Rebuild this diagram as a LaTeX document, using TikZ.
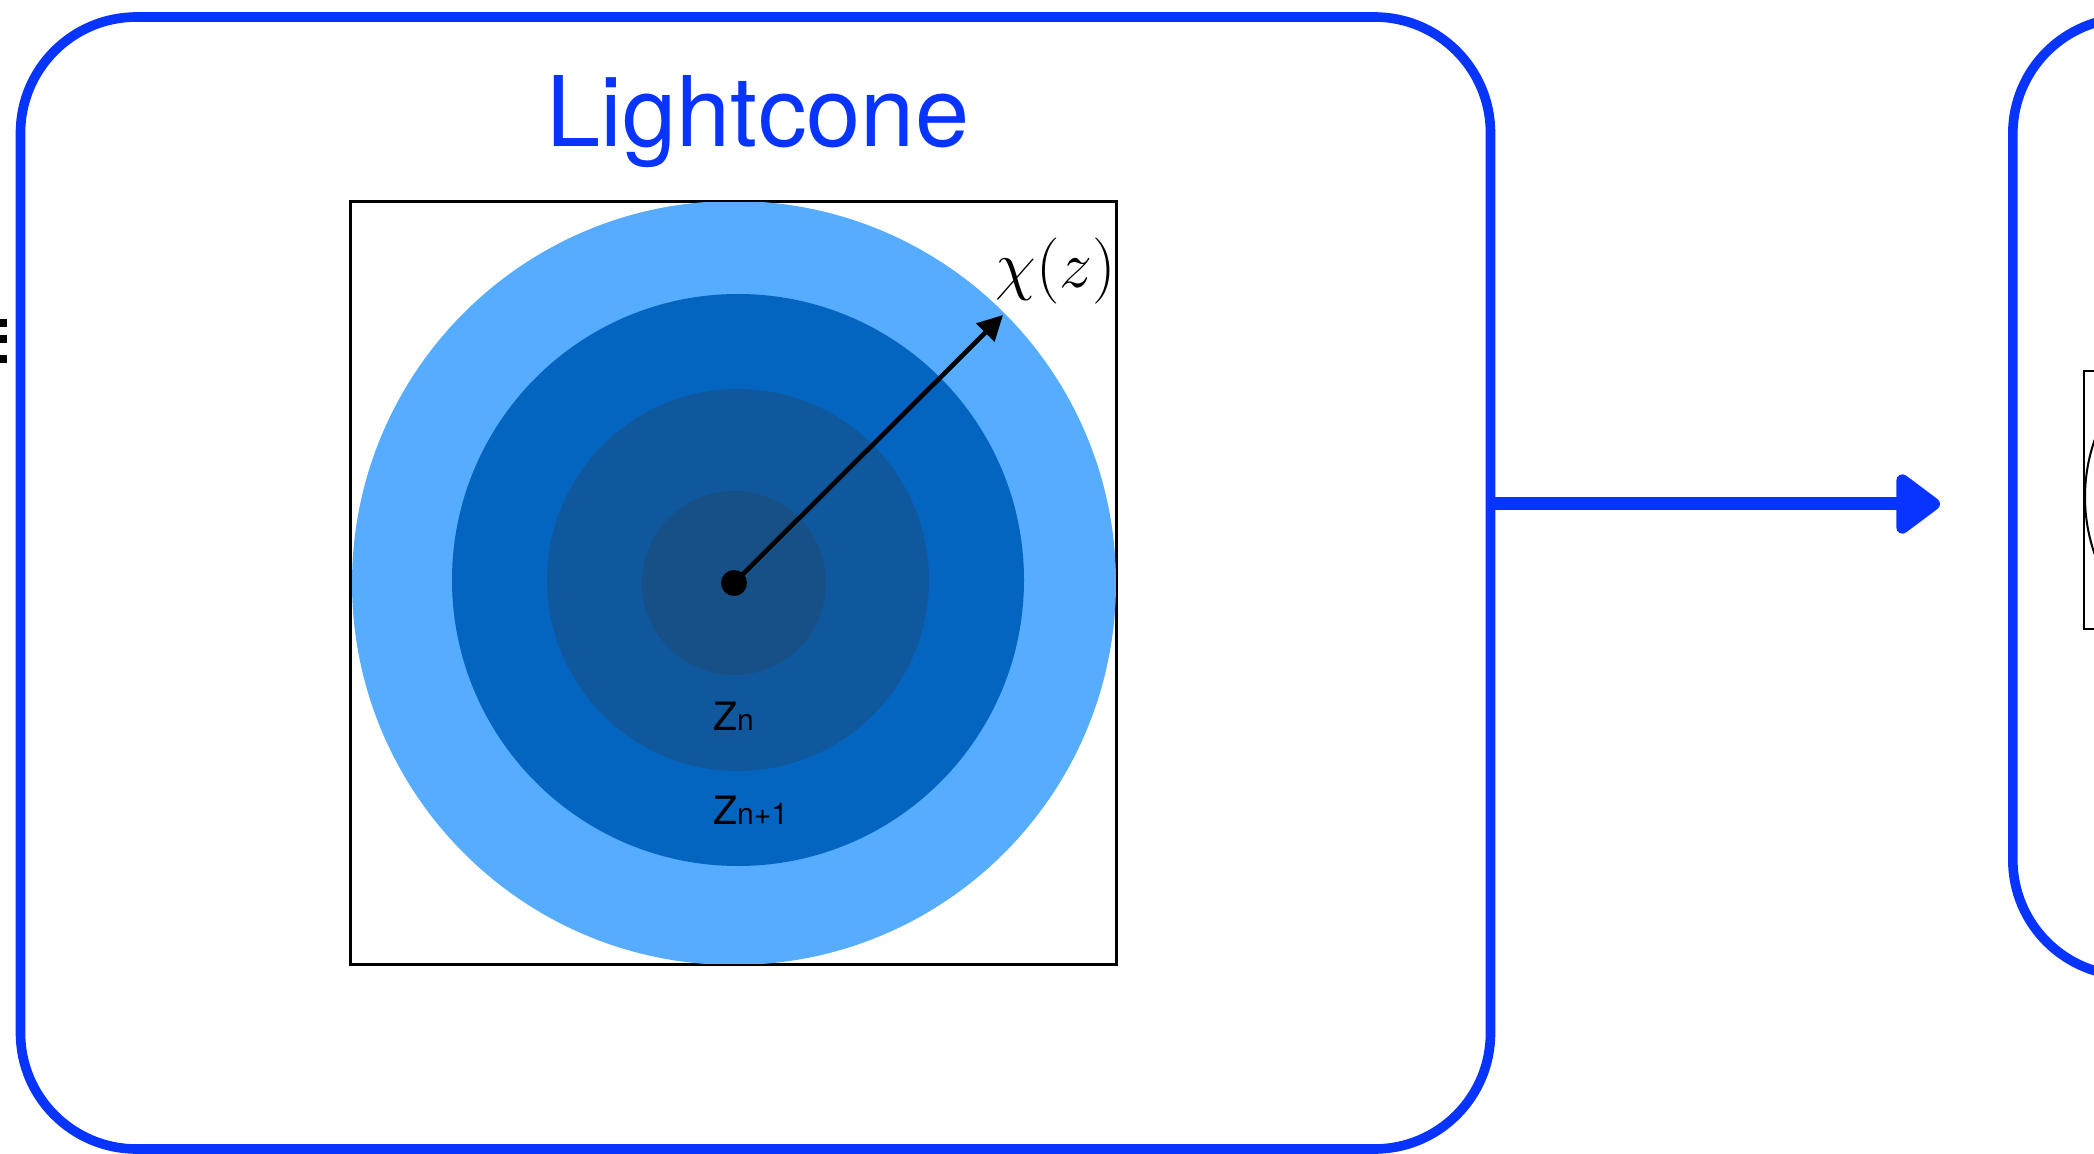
\documentclass[tikz,border=0pt]{standalone}
\usepackage{fontspec}
\setsansfont{TeX Gyre Heros}
\usetikzlibrary{arrows.meta}
\definecolor{boxblue}{RGB}{8,52,255}
\definecolor{ringA}{RGB}{86,172,255}
\definecolor{ringB}{RGB}{4,101,192}
\definecolor{ringC}{RGB}{15,88,158}
\definecolor{ringD}{RGB}{23,79,135}
\tikzset{
  handbox/.style={draw=boxblue, line width=4.8pt, rounded corners=58pt, line join=round},
  disc/.style={circle, inner sep=0pt, outer sep=0pt},
  zlabel/.style={inner sep=0pt, anchor=base west, font=\sffamily\fontsize{19.5pt}{22pt}\selectfont},
}
\newcommand{\subsz}{\fontsize{15pt}{18pt}\selectfont}
\begin{document}
\begin{tikzpicture}[x=0.5pt,y=-0.5pt]
\useasboundingbox (0,0) rectangle (2094,1154);
\clip (0,0) rectangle (2094,1154);
% left box
\node[handbox, minimum width=735pt, minimum height=566pt, inner sep=0pt] (lcbox) at (755.5,583) {};
\node[inner sep=0pt, anchor=base, text=boxblue, font=\sffamily\fontsize{48.7pt}{58pt}\selectfont] (title) at (758,147) {Lightcone};
% square frame
\node[draw=black, line width=1pt, minimum width=382.5pt, minimum height=381pt, inner sep=0pt] (sq) at (733.5,583) {};
% rings
\node[disc, fill=ringA, minimum size=382pt] (r1) at (734,583) {};
\node[disc, fill=ringB, minimum size=286pt] (r2) at (738,580) {};
\node[disc, fill=ringC, minimum size=191pt] (r3) at (738,580) {};
\node[disc, fill=ringD, minimum size=92pt] (r4) at (734,583) {};
\draw[line width=1pt] (sq.north west) rectangle (sq.south east);
\node[disc, fill=black, minimum size=13pt] (dot) at (734,583) {};
\coordinate (chitip) at (1003,315);
\draw[line width=2.3pt, -{Triangle[length=12.5pt,width=12.5pt]}] (dot.center) -- (chitip);
\node[inner sep=0pt, font=\fontsize{24.88pt}{30pt}\selectfont] (chi) at (1056,271) {\scalebox{1.33}{$\chi(z)$}};
\node[zlabel] (zn) at (713,731) {Z{\subsz n}};
\node[zlabel] (zn1) at (713,824) {Z{\subsz n+1}};
% connector arrow
\coordinate (atip) at (1940,504);
\draw[boxblue, line width=6.5pt, line cap=round, -{Triangle[length=24pt,width=34pt,round]}] (lcbox.east |- atip) -- (atip);
% right box (partly visible)
\node[handbox, minimum width=300pt, minimum height=479pt, inner sep=0pt, anchor=north west] (rbox) at (2008,13) {};
\node[draw=black, line width=1pt, minimum width=200pt, minimum height=129pt, inner sep=0pt, anchor=north west] (rsq) at (2083,370) {};
\node[draw=black, line width=1pt, disc, minimum size=173pt, anchor=west] (rcirc) at (2085,497) {};
% cropped glyph at left edge
\fill[black] (0,319) rectangle (7,327);
\fill[black] (0,335) rectangle (7,343);
\fill[black] (0,355) rectangle (7,363);
\end{tikzpicture}
\end{document}
